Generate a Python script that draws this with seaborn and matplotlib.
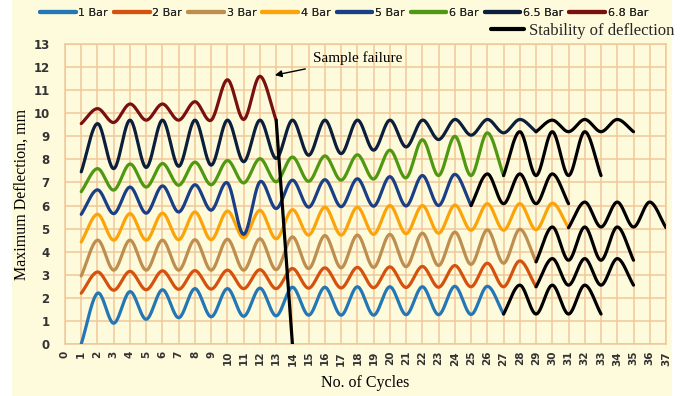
import numpy as np
import matplotlib
matplotlib.use("Agg")
import matplotlib.pyplot as plt
import seaborn as sns
from matplotlib.lines import Line2D
from matplotlib.patches import Rectangle

# ---- data: maximum deflection (mm) per cycle ----
bar1_start = 1
bar1 = [0, 2.2, 0.9, 2.27, 1.07, 2.35, 1.14, 2.4, 1.18, 2.4, 1.2, 2.42, 1.22, 2.46,
        1.25, 2.46, 1.25, 2.48, 1.25, 2.48, 1.27, 2.48, 1.27, 2.5, 1.28, 2.5, 1.3]
bar1_stable = [1.3, 2.55, 1.3, 2.55, 1.3, 2.55, 1.3]

bar2 = [2.2, 3.12, 2.33, 3.15, 2.35, 3.17, 2.37, 3.18, 2.38, 3.2, 2.4, 3.22, 2.4, 3.27,
        2.42, 3.3, 2.43, 3.32, 2.44, 3.34, 2.45, 3.36, 2.46, 3.4, 2.48, 3.5, 2.48, 3.6, 2.48]
bar2_stable = [2.48, 3.7, 2.55, 3.7, 2.55, 3.7, 2.55]

bar3 = [2.95, 4.5, 3.2, 4.5, 3.2, 4.5, 3.2, 4.52, 3.2, 4.54, 3.2, 4.56, 3.22, 4.64,
        3.27, 4.7, 3.3, 4.72, 3.32, 4.75, 3.35, 4.8, 3.4, 4.85, 3.45, 4.95, 3.5, 4.97, 3.56]
bar3_stable = [3.56, 5.07, 3.63, 5.07, 3.63, 5.07, 3.63]

bar4 = [4.42, 5.62, 4.5, 5.65, 4.5, 5.67, 4.52, 5.72, 4.52, 5.76, 4.6, 5.79, 4.56, 5.82,
        4.72, 5.93, 4.72, 5.93, 4.75, 6.0, 4.78, 6.0, 4.8, 6.02, 4.93, 6.08, 4.93, 6.08,
        4.95, 6.1, 5.04]
bar4_stable = [5.04, 6.15, 5.07, 6.15, 5.07, 6.15, 5.04]

bar5 = [5.62, 6.68, 5.65, 6.8, 5.67, 6.85, 5.72, 6.9, 5.8, 6.98, 4.75, 7.03, 5.87, 7.1,
        5.93, 7.12, 5.95, 7.16, 5.97, 7.25, 5.98, 7.3, 6.0, 7.35, 6.0]
bar5_stable = [6.0, 7.37, 6.08, 7.37, 6.08, 7.37, 6.08]

bar6 = [6.6, 7.6, 6.67, 7.8, 6.8, 7.82, 6.88, 7.88, 6.9, 7.95, 6.98, 8.03, 7.03, 8.1,
        7.05, 8.15, 7.1, 8.2, 7.15, 8.4, 7.2, 8.85, 7.3, 9.0, 7.3, 9.15, 7.3]
bar6_stable = [7.3, 9.2, 7.3, 9.2, 7.3, 9.2, 7.3]

bar65 = [7.46, 9.55, 7.6, 9.7, 7.65, 9.7, 7.7, 9.7, 7.75, 9.7, 7.9, 9.7, 8.04, 9.7,
         8.18, 9.7, 8.25, 9.7, 8.4, 9.7, 8.54, 9.7, 8.86, 9.73, 9.05, 9.73, 9.15, 9.73, 9.2]
bar65_stable = [9.2, 9.7, 9.2, 9.73, 9.2, 9.73, 9.2]

bar68 = [9.55, 10.2, 9.6, 10.4, 9.7, 10.4, 9.7, 10.5, 9.7, 11.45, 9.73, 11.6, 9.7]
bar68_failure = [9.7, 0]

labels = ["1 Bar", "2 Bar", "3 Bar", "4 Bar", "5 Bar", "6 Bar", "6.5 Bar", "6.8 Bar"]
colors = ["#2277B4", "#D4520E", "#BE8E4E", "#FBA40A", "#1A3F86", "#4E9812",
          "#0B1E3B", "#781010"]
main_runs = [bar1, bar2, bar3, bar4, bar5, bar6, bar65, bar68]
tail_runs = [bar1_stable, bar2_stable, bar3_stable, bar4_stable, bar5_stable,
             bar6_stable, bar65_stable, bar68_failure]

x_ticks = list(range(0, 38))
y_ticks = list(range(0, 14))

CREAM = "#FEFADC"
GRID = "#F0C898"


def smooth(xs, ys, n=24):
    """Catmull-Rom pass through the points, like a spreadsheet 'smoothed line'."""
    x = np.asarray(xs, float)
    y = np.asarray(ys, float)
    if len(x) < 3:
        return x, y
    px = np.concatenate([[2 * x[0] - x[1]], x, [2 * x[-1] - x[-2]]])
    py = np.concatenate([[2 * y[0] - y[1]], y, [2 * y[-1] - y[-2]]])
    t = np.linspace(0, 1, n, endpoint=False)
    ox, oy = [], []
    for i in range(1, len(px) - 2):
        for p, out in ((px, ox), (py, oy)):
            p0, p1, p2, p3 = p[i - 1:i + 3]
            seg = 0.5 * (2 * p1 + (-p0 + p2) * t
                         + (2 * p0 - 5 * p1 + 4 * p2 - p3) * t ** 2
                         + (-p0 + 3 * p1 - 3 * p2 + p3) * t ** 3)
            out.extend(seg)
    ox.append(x[-1])
    oy.append(y[-1])
    return np.array(ox), np.array(oy)


sns.set_theme(style="white")
plt.rcParams["font.family"] = ["DejaVu Sans"]

fig = plt.figure(figsize=(6.87, 3.96), dpi=100, facecolor="white")
fig.patches.append(Rectangle((12 / 687, 0), 660 / 687, 1, transform=fig.transFigure,
                             facecolor=CREAM, edgecolor="none", zorder=-10))
ax = fig.add_axes([65 / 687, 52 / 396, 601 / 687, 300 / 396])
ax.set_facecolor(CREAM)

LW = 2.3
for vals, tail, col in zip(main_runs, tail_runs, colors):
    cyc = np.arange(bar1_start, bar1_start + len(vals))
    sx, sy = smooth(cyc, vals)
    sns.lineplot(x=sx, y=sy, color=col, lw=LW, sort=False, estimator=None, ax=ax,
                 solid_capstyle="round", zorder=3)
    tcyc = np.arange(cyc[-1], cyc[-1] + len(tail))
    tx, ty = smooth(tcyc, tail)
    sns.lineplot(x=tx, y=ty, color="black", lw=LW, sort=False, estimator=None, ax=ax,
                 solid_capstyle="round", zorder=4)

ax.set_xlim(0, 37)
ax.set_ylim(0, 13)
ax.set_xticks(x_ticks)
ax.set_yticks(y_ticks)
ax.set_xticklabels([str(v) for v in x_ticks], rotation=90, fontsize=7.5,
                   color="#333333", fontweight="semibold")
ax.set_yticklabels([str(v) for v in y_ticks], fontsize=8.5, color="#333333",
                   fontweight="semibold")
ax.tick_params(axis="both", length=0)
ax.tick_params(axis="x", pad=5)
ax.tick_params(axis="y", pad=11)
ax.grid(True, color=GRID, lw=1.1, zorder=0)
ax.set_axisbelow(True)
for sp in ax.spines.values():
    sp.set_color(GRID)
    sp.set_linewidth(1.1)

serif = ["Liberation Serif", "DejaVu Serif"]
ax.set_xlabel("No. of Cycles", fontsize=11.5, family=serif, color="black")
ax.set_ylabel("Maximum Deflection, mm", fontsize=11.5, family=serif, color="black")
ax.xaxis.set_label_coords(0.5, -0.13)
ax.xaxis.label.set_va("center")
ax.yaxis.set_label_coords(-0.0715, 0.5)
ax.yaxis.label.set_va("center")

ax.annotate("Sample failure", xy=(12.92, 11.65), xytext=(15.25, 12.38),
            ha="left", va="center", fontsize=11, family=serif, color="black",
            arrowprops=dict(arrowstyle="-|>", color="black", lw=1.0,
                            mutation_scale=10, shrinkA=3, shrinkB=0))

handles = [Line2D([0], [0], color=c, lw=3) for c in colors]
leg1 = fig.legend(handles, labels, ncol=8, loc="center left",
                  bbox_to_anchor=(40 / 687, 1 - 13 / 396), frameon=False,
                  borderpad=0, borderaxespad=0, handlelength=3.2, handletextpad=0.25,
                  columnspacing=0.55, prop={"family": "DejaVu Sans", "size": 8})
fig.add_artist(leg1)
fig.legend([Line2D([0], [0], color="black", lw=3)], ["Stability of deflection"],
           loc="center left", bbox_to_anchor=(491 / 687, 1 - 31 / 396), frameon=False,
           borderpad=0, borderaxespad=0, handlelength=2.0, handletextpad=0.3,
           prop={"family": serif, "size": 12})

fig.savefig("out.png", dpi=100, facecolor=fig.get_facecolor())
